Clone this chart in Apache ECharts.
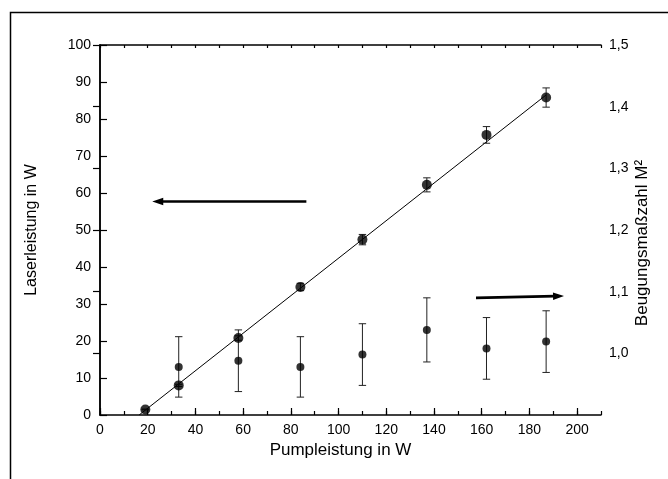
<!DOCTYPE html>
<html>
<head>
<meta charset="utf-8">
<script src="https://cdn.jsdelivr.net/npm/echarts@6/dist/echarts.min.js"></script>
<style>
html,body{margin:0;padding:0;background:#fff;}
#c{width:668px;height:479px;}
</style>
</head>
<body>
<div id="c"></div>
<script>
// Data
const pump = [19, 33, 58, 84, 110, 137, 162, 187];
const laser = [1.5, 8.0, 20.8, 34.6, 47.4, 62.2, 75.7, 85.8];
const laserErr = [0.1, 0.3, 0.6, 1.0, 1.4, 1.9, 2.25, 2.6];
const pumpM2 = [33, 58, 84, 110, 137, 162, 187];
const m2 = [0.978, 0.988, 0.978, 0.998, 1.038, 1.008, 1.019];
const m2Err = [0.049, 0.05, 0.049, 0.05, 0.052, 0.05, 0.05];
const fitX = [16.4, 187];
const fitY = [0, 86.5];
// annotation arrows: [x1, y1, x2, y2] in axis units
const arrowLaser = [86.5, 57.7, 21.9, 57.7];
const arrowM2 = [157.6, 1.090, 194.5, 1.093];
const xTickLabels = ['0','20','40','60','80','100','120','140','160','180','200'];

const FONT = 'Liberation Sans, Arial, sans-serif';

const laserPts = pump.map((x, i) => [x, laser[i]]);
const laserErrPts = pump.map((x, i) => [x, laser[i], laserErr[i]]);
const m2Pts = pumpM2.map((x, i) => [x, m2[i]]);
const m2ErrPts = pumpM2.map((x, i) => [x, m2[i], m2Err[i]]);
const fitPts = fitX.map((x, i) => [x, fitY[i]]);

function errItem(params, api) {
  const x = api.value(0), y = api.value(1), e = api.value(2);
  const t = api.coord([x, y + e]);
  const b = api.coord([x, y - e]);
  const cw = 3.7;
  const st = { stroke: '#222', lineWidth: 1 };
  return { type: 'group', children: [
    { type: 'line', shape: { x1: t[0], y1: t[1], x2: b[0], y2: b[1] }, style: st },
    { type: 'line', shape: { x1: t[0] - cw, y1: t[1], x2: t[0] + cw, y2: t[1] }, style: st },
    { type: 'line', shape: { x1: b[0] - cw, y1: b[1], x2: b[0] + cw, y2: b[1] }, style: st }
  ]};
}

function arrowItem(params, api) {
  const p1 = api.coord([api.value(0), api.value(1)]);
  const p2 = api.coord([api.value(2), api.value(3)]);
  const dx = p2[0] - p1[0], dy = p2[1] - p1[1];
  const L = Math.hypot(dx, dy), ux = dx / L, uy = dy / L;
  const hl = 11, hw = 3.8;
  const bx = p2[0] - ux * hl, by = p2[1] - uy * hl;
  return { type: 'group', children: [
    { type: 'line', shape: { x1: p1[0], y1: p1[1], x2: bx + ux * 2, y2: by + uy * 2 }, style: { stroke: '#000', lineWidth: 2.6 } },
    { type: 'polygon', shape: { points: [[p2[0], p2[1]], [bx - uy * hw, by + ux * hw], [bx + uy * hw, by - ux * hw]] }, style: { fill: '#000' } }
  ]};
}

const axisLineStyle = { color: '#000', width: 1.5 };
const tickStyle = { color: '#000', width: 1.2 };

const chart = echarts.init(document.getElementById('c'), null, { renderer: 'canvas' });
chart.setOption({
  animation: false,
  backgroundColor: '#fff',
  textStyle: { fontFamily: FONT },
  graphic: [{
    type: 'rect', left: 8, top: 10, silent: true, z: -10,
    shape: { width: 720, height: 520 },
    style: { fill: 'none', stroke: '#000', lineWidth: 1.5 }
  }],
  grid: { left: 100, top: 45, right: 67, bottom: 64, containLabel: false },
  xAxis: [{
    type: 'value', position: 'bottom', min: 0, max: 210, interval: 20,
    name: 'Pumpleistung in W', nameLocation: 'middle', nameGap: 27, nameMoveOverlap: false,
    nameTextStyle: { fontSize: 17, color: '#000', fontFamily: FONT, padding: [0, 20, 0, 0] },
    axisLine: { show: true, lineStyle: axisLineStyle },
    axisTick: { show: true, inside: true, length: 7, lineStyle: tickStyle },
    axisLabel: { show: true, color: '#000', fontSize: 14, fontFamily: FONT, margin: 8, showMaxLabel: false,
      formatter: v => { const s = String(v); return xTickLabels.indexOf(s) >= 0 ? s : ''; } },
    splitLine: { show: false }
  }, {
    type: 'value', position: 'bottom', min: 0, max: 210, interval: 10,
    axisLine: { show: false },
    axisTick: { show: true, inside: true, length: 4, lineStyle: tickStyle },
    axisLabel: { show: false }, splitLine: { show: false }
  }, {
    type: 'value', position: 'top', min: 0, max: 210, interval: 10,
    axisLine: { show: true, lineStyle: axisLineStyle },
    axisTick: { show: true, inside: true, length: 3, lineStyle: tickStyle },
    axisLabel: { show: false }, splitLine: { show: false }
  }],
  yAxis: [{
    type: 'value', position: 'left', min: 0, max: 100, interval: 10,
    name: 'Laserleistung in W', nameLocation: 'middle', nameGap: 60, nameRotate: 90, nameMoveOverlap: false,
    nameTextStyle: { fontSize: 16, color: '#000', fontFamily: FONT },
    axisLine: { show: true, lineStyle: axisLineStyle },
    axisTick: { show: true, inside: true, length: 7, lineStyle: tickStyle },
    axisLabel: { color: '#000', fontSize: 14, fontFamily: FONT, margin: 9 },
    splitLine: { show: false }
  }, {
    type: 'value', position: 'right', min: 0.9, max: 1.5, interval: 0.1,
    name: 'Beugungsmaßzahl M²', nameLocation: 'middle', nameGap: 33, nameRotate: 90, nameMoveOverlap: false,
    nameTextStyle: { fontSize: 17, color: '#000', fontFamily: FONT, padding: [0, 26, 0, 0] },
    axisLine: { show: true, lineStyle: axisLineStyle },
    axisTick: { show: true, inside: true, length: 7, lineStyle: tickStyle },
    axisLabel: { color: '#000', fontSize: 14, fontFamily: FONT, margin: 8, showMinLabel: false,
      formatter: v => v.toFixed(1).replace('.', ',') },
    splitLine: { show: false }
  }],
  series: [{
    type: 'line', name: 'fit', data: fitPts, xAxisIndex: 0, yAxisIndex: 0,
    showSymbol: false, symbol: 'none', lineStyle: { color: '#000', width: 1 }, silent: true, z: 2
  }, {
    type: 'custom', name: 'laserErr', data: laserErrPts, xAxisIndex: 0, yAxisIndex: 0,
    renderItem: errItem, silent: true, z: 3
  }, {
    type: 'scatter', name: 'laser', data: laserPts, xAxisIndex: 0, yAxisIndex: 0,
    symbol: 'circle', symbolSize: 10, itemStyle: { color: '#000' }, silent: true, z: 4
  }, {
    type: 'custom', name: 'm2Err', data: m2ErrPts, xAxisIndex: 0, yAxisIndex: 1,
    renderItem: errItem, silent: true, z: 3
  }, {
    type: 'scatter', name: 'm2', data: m2Pts, xAxisIndex: 0, yAxisIndex: 1,
    symbol: 'circle', symbolSize: 8, itemStyle: { color: '#000' }, silent: true, z: 4
  }, {
    type: 'custom', name: 'arrowL', data: [arrowLaser], xAxisIndex: 0, yAxisIndex: 0,
    renderItem: arrowItem, silent: true, z: 5
  }, {
    type: 'custom', name: 'arrowR', data: [arrowM2], xAxisIndex: 0, yAxisIndex: 1,
    renderItem: arrowItem, silent: true, z: 5
  }]
});
</script>
</body>
</html>
